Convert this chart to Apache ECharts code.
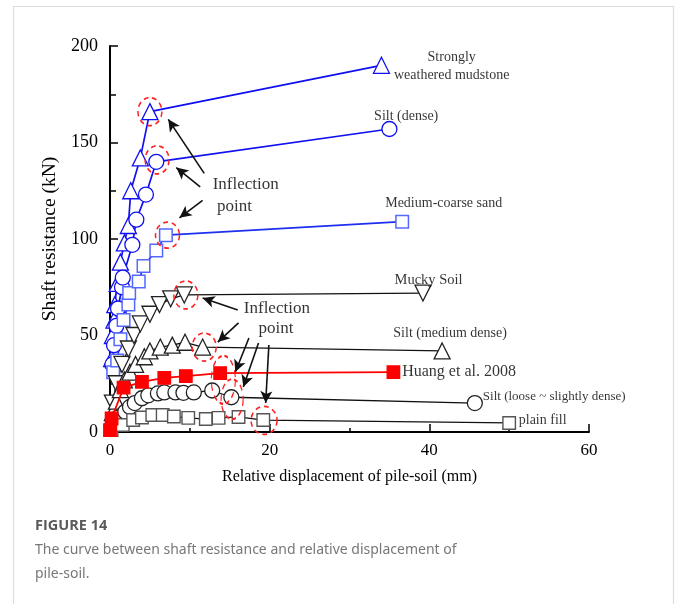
<!DOCTYPE html>
<html>
<head>
<meta charset="utf-8">
<script src="https://cdn.jsdelivr.net/npm/echarts@6/dist/echarts.min.js"></script>
<style>
  html, body { margin: 0; padding: 0; background: #fff; }
  #chart { width: 677px; height: 604px; }
</style>
</head>
<body>
<div id="chart"></div>
<script>
// Shaft resistance (kN) vs relative pile-soil displacement (mm) per soil layer
const mudstoneX = [0.2, 0.3, 0.5, 0.6, 0.9, 1.3, 1.8, 2.3, 2.6, 3.8, 5.0, 34.0];
const mudstoneY = [38, 50, 58, 66, 77, 88, 98, 107, 125, 142, 166, 190];
const siltDenseX = [0.3, 0.5, 0.8, 1.0, 1.5, 1.6, 2.8, 3.3, 4.5, 5.8, 35.0];
const siltDenseY = [35, 45, 55, 64, 75, 80, 97, 110, 123, 140, 157];
const sandX = [0.4, 0.9, 1.3, 1.7, 2.3, 2.4, 3.6, 4.2, 5.8, 7.0, 36.6];
const sandY = [31, 37, 48, 58, 66, 72, 78, 86, 94, 102, 109];
const muckyX = [0.3, 0.8, 1.5, 2.3, 3.0, 3.8, 5.0, 6.2, 7.6, 9.3, 39.2];
const muckyY = [15, 25, 35, 43, 50, 56, 61, 66, 69, 71, 72];
const siltMediumX = [0.3, 0.8, 1.3, 1.8, 2.5, 3.2, 4.3, 5.0, 6.3, 7.8, 9.4, 11.6, 41.6];
const siltMediumY = [10, 16, 22, 27, 31, 35, 39, 42, 44, 45, 46.5, 44, 42];
const huangX = [0, 0.2, 1.7, 4.0, 6.8, 9.5, 13.8, 35.5];
const huangY = [1, 7, 23, 26, 28, 29, 30.5, 31];
const siltLooseX = [0.3, 1.0, 1.9, 2.5, 3.1, 4.0, 4.8, 6.0, 6.8, 8.2, 9.2, 10.5, 12.8, 15.2, 45.7];
const siltLooseY = [3, 7.5, 10.5, 13, 15, 17.5, 19, 20, 20.5, 20.5, 20.3, 20.5, 21.5, 18, 15];
const plainFillX = [0.2, 1.6, 2.9, 4.0, 5.3, 6.6, 8.0, 9.8, 12.0, 13.6, 16.1, 19.2, 50.0];
const plainFillY = [1, 3.6, 6.2, 7.5, 8.8, 8.8, 8.0, 7.3, 6.7, 7.3, 7.8, 6.2, 4.7];

const xTicks = [0, 20, 40, 60];
const yTicks = [0, 50, 100, 150, 200];

// Curve names and where their labels sit (data units)
const curveLabels = [
  { text: 'Strongly\nweathered mudstone', at: [42.8, 189.6], align: 'center', size: 14 },
  { text: 'Silt (dense)', at: [37.1, 163.7], align: 'center', size: 14 },
  { text: 'Medium-coarse sand', at: [41.8, 118.7], align: 'center', size: 14 },
  { text: 'Mucky Soil', at: [39.9, 78.8], align: 'center', size: 14.5 },
  { text: 'Silt (medium dense)', at: [42.6, 51.3], align: 'center', size: 14 },
  { text: 'Huang et al. 2008', at: [36.6, 31.4], align: 'left', size: 16 },
  { text: 'Silt (loose ~ slightly dense)', at: [46.7, 18.1], align: 'left', size: 13 },
  { text: 'plain fill', at: [51.2, 6.2], align: 'left', size: 14 }
];
const noteLabels = [
  { text: 'Inflection', at: [17.0, 128.0] },
  { text: 'point', at: [15.6, 116.6] },
  { text: 'Inflection', at: [20.9, 64.2] },
  { text: 'point', at: [20.8, 53.4] }
];
// Arrows from the notes to the inflection points: [tail, head]
const arrows = [
  [[11.8, 134], [7.3, 162]],
  [[11.3, 127], [8.3, 137]],
  [[11.6, 120], [8.7, 111]],
  [[16.0, 63.2], [11.6, 69.4]],
  [[16.1, 56.5], [13.5, 46.6]],
  [[17.4, 48.7], [15.7, 31.1]],
  [[18.6, 46.1], [16.7, 23.3]],
  [[19.9, 45.1], [19.5, 15.0]]
];
// Dashed rings around each inflection point: [x, y, width px, height px]
const rings = {
  mudstone: [5.0, 166, 24, 28],
  siltDense: [5.9, 141, 24, 28],
  sand: [7.2, 102, 24, 26],
  mucky: [9.5, 71, 24, 28],
  siltMedium: [11.8, 44, 24, 28],
  huang: [14.2, 27, 24, 48],
  siltLoose: [15.3, 17, 22, 40],
  plainFill: [19.3, 6, 26, 28]
};

const zip = (xs, ys) => xs.map((x, i) => [x, ys[i]]);
const serif = '"Liberation Serif", "DejaVu Serif", serif';

function ring(key) {
  const r = rings[key];
  return {
    symbol: 'circle', silent: true, animation: false,
    label: { show: false },
    data: [{ coord: [r[0], r[1]], symbolSize: [r[2], r[3]],
      itemStyle: { color: 'rgba(0,0,0,0)', borderColor: '#ff2020', borderWidth: 1.6, borderType: [5, 4] } }]
  };
}

function curve(name, xs, ys, opt) {
  return {
    name, type: 'line', data: zip(xs, ys),
    symbol: opt.symbol, symbolSize: opt.size, symbolRotate: opt.rotate || 0,
    lineStyle: { color: opt.line, width: opt.width },
    itemStyle: { color: opt.fill, borderColor: opt.edge, borderWidth: opt.edgeWidth || 1.3 },
    z: opt.z || 3,
    markPoint: ring(opt.ring),
    animation: false
  };
}

const series = [
  curve('Strongly weathered mudstone', mudstoneX, mudstoneY,
    { symbol: 'triangle', size: 16, line: '#1010f0', width: 1.7, fill: '#fff', edge: '#1010f0', ring: 'mudstone' }),
  curve('Silt (dense)', siltDenseX, siltDenseY,
    { symbol: 'circle', size: 15, line: '#1010f0', width: 1.7, fill: '#fff', edge: '#1010f0', ring: 'siltDense' }),
  curve('Medium-coarse sand', sandX, sandY,
    { symbol: 'rect', size: 12.5, line: '#1f2ff0', width: 1.7, fill: '#fff', edge: '#5468ff', edgeWidth: 1.5, ring: 'sand' }),
  curve('Mucky Soil', muckyX, muckyY,
    { symbol: 'triangle', size: 16, rotate: 180, line: '#111', width: 1.3, fill: '#fff', edge: '#222', ring: 'mucky' }),
  curve('Silt (medium dense)', siltMediumX, siltMediumY,
    { symbol: 'triangle', size: 16, line: '#111', width: 1.3, fill: '#fff', edge: '#222', ring: 'siltMedium' }),
  curve('Huang et al. 2008', huangX, huangY,
    { symbol: 'rect', size: 12.5, line: '#ff0000', width: 1.8, fill: '#ff0000', edge: '#ff0000', ring: 'huang', z: 4 }),
  curve('Silt (loose ~ slightly dense)', siltLooseX, siltLooseY,
    { symbol: 'circle', size: 15, line: '#111', width: 1.3, fill: '#fff', edge: '#222', ring: 'siltLoose' }),
  curve('plain fill', plainFillX, plainFillY,
    { symbol: 'rect', size: 12.5, line: '#111', width: 1.3, fill: '#fff', edge: '#555', edgeWidth: 1.4, ring: 'plainFill' }),
  {
    name: 'curve labels', type: 'scatter', symbolSize: 0, silent: true, animation: false, z: 6,
    data: curveLabels.map(l => ({
      value: l.at,
      label: { show: true, position: 'inside', formatter: l.text, align: l.align,
        verticalAlign: 'middle', color: '#000', fontFamily: serif, fontSize: l.size, lineHeight: 18 }
    }))
  },
  {
    name: 'notes', type: 'scatter', symbolSize: 0, silent: true, animation: false, z: 6,
    data: noteLabels.map(l => ({
      value: l.at,
      label: { show: true, position: 'inside', formatter: l.text, align: 'center',
        verticalAlign: 'middle', color: '#000', fontFamily: serif, fontSize: 17 }
    })),
    markLine: {
      silent: true, animation: false, symbol: ['none', 'arrow'], symbolSize: [9, 12],
      label: { show: false },
      lineStyle: { color: '#111', width: 1.6, type: 'solid' },
      data: arrows.map(a => [{ coord: a[0] }, { coord: a[1] }])
    }
  }
];

const chart = echarts.init(document.getElementById('chart'), null, { renderer: 'canvas' });
chart.setOption({
  backgroundColor: '#fff',
  animation: false,
  grid: { left: 110, right: 88, top: 46, bottom: 172, containLabel: false },
  xAxis: {
    type: 'value', min: xTicks[0], max: xTicks[xTicks.length - 1], interval: 20,
    name: 'Relative displacement of pile-soil (mm)', nameLocation: 'middle', nameGap: 37,
    nameTextStyle: { fontFamily: serif, fontSize: 16, color: '#000' },
    axisLine: { lineStyle: { color: '#000', width: 2 } },
    axisTick: { inside: true, length: 8, lineStyle: { color: '#000', width: 1.5 } },
    minorTick: { show: true, splitNumber: 2, length: 4, lineStyle: { color: '#000', width: 1.5 } },
    axisLabel: { fontFamily: serif, fontSize: 17, color: '#000', margin: 10 },
    splitLine: { show: false }
  },
  yAxis: {
    type: 'value', min: yTicks[0], max: yTicks[yTicks.length - 1], interval: 50,
    name: 'Shaft resistance (kN)', nameLocation: 'middle', nameGap: 40, nameRotate: 90,
    nameTextStyle: { fontFamily: serif, fontSize: 19.5, color: '#000' },
    axisLine: { show: true, lineStyle: { color: '#000', width: 2 } },
    axisTick: { show: true, inside: true, length: 8, lineStyle: { color: '#000', width: 1.5 } },
    minorTick: { show: true, splitNumber: 2, length: 6, lineStyle: { color: '#000', width: 1.5 } },
    axisLabel: { fontFamily: serif, fontSize: 18, color: '#000', margin: 12 },
    splitLine: { show: false }
  },
  graphic: [
    { type: 'rect', shape: { x: 13.5, y: 6.5, width: 660, height: 640 }, silent: true,
      style: { fill: 'none', stroke: '#dcdcdc', lineWidth: 1.2 } },
    { type: 'text', left: 35, top: 518, silent: true,
      style: { text: 'FIGURE 14', fill: '#5a5a5a', fontFamily: '"Open Sans", "Noto Sans", sans-serif',
        fontSize: 14.5, fontWeight: 'bold' } },
    { type: 'text', left: 35, top: 538, silent: true,
      style: { text: 'The curve between shaft resistance and relative displacement of\npile-soil.',
        fill: '#777', fontFamily: '"Noto Sans", "Open Sans", sans-serif', fontSize: 14, lineHeight: 24 } }
  ],
  series
});
</script>
</body>
</html>
